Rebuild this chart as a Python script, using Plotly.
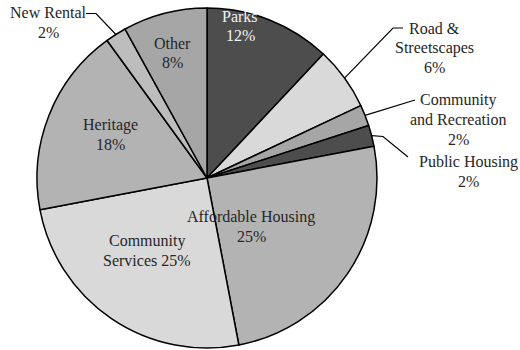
import math
import plotly.graph_objects as go

# Spending shares by program area, clockwise from 12 o'clock
categories = ["Parks", "Road & Streetscapes", "Community and Recreation",
              "Public Housing", "Affordable Housing", "Community Services",
              "Heritage", "New Rental", "Other"]
shares = [12, 6, 2, 2, 25, 25, 18, 2, 8]
colors = ["#4d4d4d", "#d9d9d9", "#a6a6a6", "#4d4d4d", "#b3b3b3",
          "#d9d9d9", "#b3b3b3", "#bdbdbd", "#a6a6a6"]

W, H = 520, 350
CX, CY, R = 207, 178, 170
LINE_H = 19.5
FONT = "Liberation Serif, serif"

fig = go.Figure(go.Pie(
    labels=categories,
    values=shares,
    sort=False,
    direction="clockwise",
    rotation=0,
    textinfo="none",
    hoverinfo="label+percent",
    marker=dict(colors=colors, line=dict(color="#000000", width=1.5)),
    domain=dict(x=[(CX - R) / W, (CX + R) / W], y=[1 - (CY + R) / H, 1 - (CY - R) / H]),
    showlegend=False,
))

def to_paper(px, py):
    return px / W, 1 - py / H

def edge_point(idx):
    # point on the rim at the middle of slice idx
    total = sum(shares)
    start = sum(shares[:idx])
    mid = (start + shares[idx] / 2) / total * 2 * math.pi
    return CX + R * math.sin(mid), CY - R * math.cos(mid)

# label placement: line breaks, text centre in px, text colour, leader path
label_layout = {
    0: dict(lines=["Parks", "{v}%"], pos=(240, 26), color="#f2f2f2", leader=None),
    1: dict(lines=["Road &", "Streetscapes", "{v}%"], pos=(434, 48), leader=[(403, 28), (393, 28)]),
    2: dict(lines=["Community", "and Recreation", "{v}%"], pos=(458, 119.5), leader=[(415, 100)]),
    3: dict(lines=["Public Housing", "{v}%"], pos=(468, 171.5), leader=[(408, 157), (383, 136.5)]),
    4: dict(lines=["Affordable Housing", "{v}%"], pos=(251, 226.5), leader=None),
    5: dict(lines=["Community", "Services {v}%"], pos=(147, 250.5), leader=None),
    6: dict(lines=["Heritage", "{v}%"], pos=(110, 134.5), leader=None),
    7: dict(lines=["New Rental", "{v}%"], pos=(48, 22.5), leader=[(86, 13.5), (96, 13.5)]),
    8: dict(lines=["Other", "{v}%"], pos=(172, 53), leader=None),
}

annotations = []
shapes = []
for i, val in enumerate(shares):
    cfg = label_layout[i]
    lines = [s.format(v=val) for s in cfg["lines"]]
    cx, cy = cfg["pos"]
    top = cy - LINE_H * (len(lines) - 1) / 2
    for k, line in enumerate(lines):
        x, y = to_paper(cx, top + k * LINE_H)
        annotations.append(dict(
            x=x, y=y, xref="paper", yref="paper", text=line, showarrow=False,
            xanchor="center", yanchor="middle", align="center",
            font=dict(family=FONT, size=16, color=cfg.get("color", "#262626")),
        ))
    if cfg["leader"]:
        pts = cfg["leader"] + [edge_point(i)]
        path = ""
        for k, (px, py) in enumerate(pts):
            qx, qy = to_paper(px, py)
            path += ("M" if k == 0 else " L") + f" {qx:.5f} {qy:.5f}"
        shapes.append(dict(type="path", path=path, xref="paper", yref="paper",
                           line=dict(color="#000000", width=1.2)))

fig.update_layout(
    width=W, height=H,
    margin=dict(l=0, r=0, t=0, b=0),
    paper_bgcolor="#ffffff",
    plot_bgcolor="#ffffff",
    annotations=annotations,
    shapes=shapes,
)

fig.write_html("out.html")
